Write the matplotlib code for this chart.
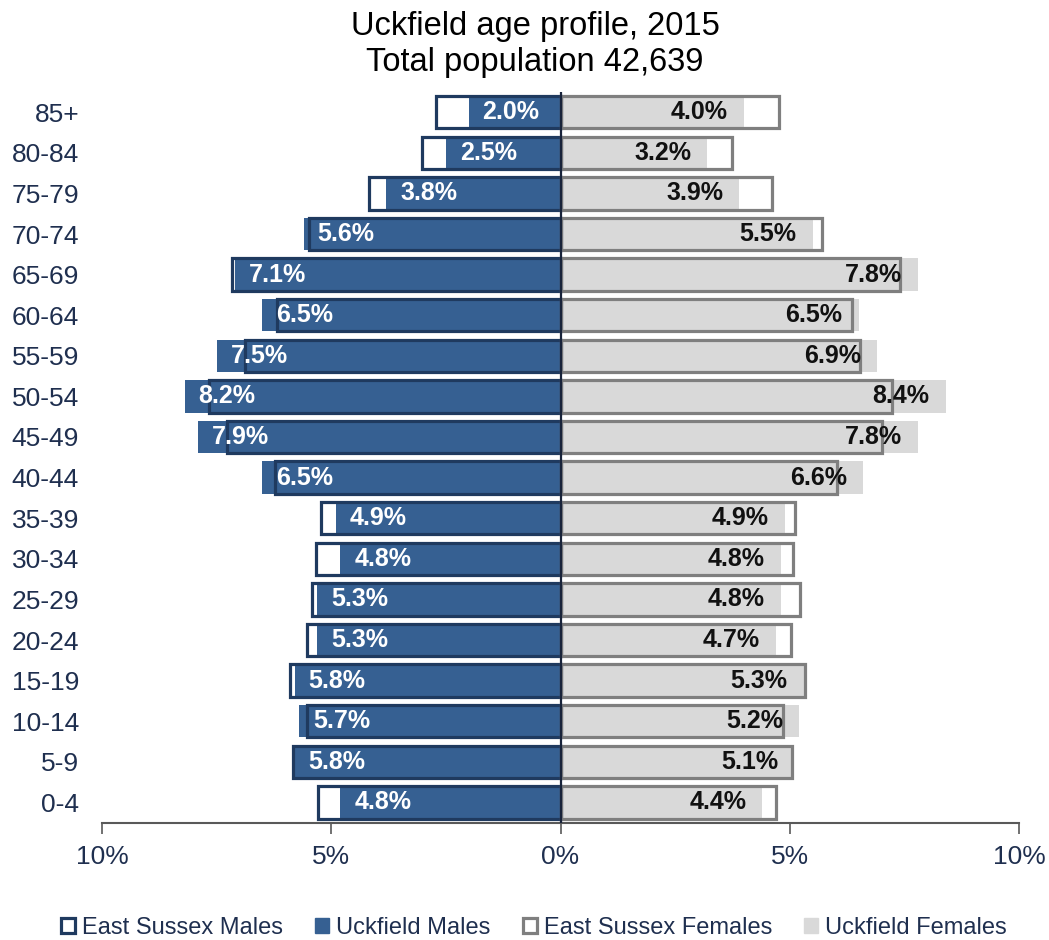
import numpy as np
import matplotlib.pyplot as plt
from matplotlib.patches import Patch

plt.rcParams['font.family'] = ['Liberation Sans', 'DejaVu Sans']

age_groups = ['0-4', '5-9', '10-14', '15-19', '20-24', '25-29', '30-34', '35-39', '40-44',
              '45-49', '50-54', '55-59', '60-64', '65-69', '70-74', '75-79', '80-84', '85+']
uck_males = [4.8, 5.8, 5.7, 5.8, 5.3, 5.3, 4.8, 4.9, 6.5, 7.9, 8.2, 7.5, 6.5, 7.1, 5.6, 3.8, 2.5, 2.0]
es_males = [5.29, 5.83, 5.53, 5.91, 5.52, 5.43, 5.33, 5.22, 6.22, 7.27, 7.67, 6.88, 6.18, 7.17,
            5.49, 4.18, 3.02, 2.71]
uck_females = [4.4, 5.1, 5.2, 5.3, 4.7, 4.8, 4.8, 4.9, 6.6, 7.8, 8.4, 6.9, 6.5, 7.8, 5.5, 3.9, 3.2, 4.0]
es_females = [4.71, 5.05, 4.86, 5.34, 5.03, 5.22, 5.08, 5.11, 6.02, 7.01, 7.24, 6.54, 6.35, 7.41,
              5.70, 4.62, 3.75, 4.76]

blue = '#366092'
navy = '#1F3A5F'
light = '#D9D9D9'
grey_edge = '#7F7F7F'
txt = '#1F2F4F'

fig = plt.figure(figsize=(10.49, 9.40), dpi=100)
ax = fig.add_axes([102 / 1049, 117.3 / 940, 917 / 1049, 730.8 / 940])

y = np.arange(len(age_groups))
h = 0.80
um = -np.array(uck_males)
em = -np.array(es_males)

ax.barh(y, um, height=h, color=blue, zorder=2)
ax.barh(y, uck_females, height=h, color=light, zorder=2)
ax.barh(y, em, height=h, facecolor='none', edgecolor=navy, linewidth=2.3, zorder=3)
ax.barh(y, es_females, height=h, facecolor='none', edgecolor=grey_edge, linewidth=2.3, zorder=3)

# labels sit just inside the end of the Uckfield bars
for yi, v in zip(y, uck_males):
    ax.text(-v + 0.3, yi, '{:.1f}%'.format(v), color='white', fontweight='bold',
            fontsize=18, ha='left', va='center', zorder=5)
for yi, v in zip(y, uck_females):
    ax.text(v - 0.35, yi, '{:.1f}%'.format(v), color='#111111', fontweight='bold',
            fontsize=18, ha='right', va='center', zorder=5)

ax.axvline(0, color='#18233a', linewidth=1.6, zorder=4)

ax.set_xlim(-10, 10)
ax.set_ylim(-0.5, len(age_groups) - 0.5)
ax.set_xticks([-10, -5, 0, 5, 10])
ax.set_xticklabels(['10%', '5%', '0%', '5%', '10%'])
ax.set_yticks(y)
ax.set_yticklabels(age_groups)
ax.tick_params(axis='y', length=0, pad=16.5, labelsize=19, labelcolor=txt)
ax.tick_params(axis='x', length=8, width=1.2, color='#595959', pad=8, labelsize=19, labelcolor=txt)
for s in ['top', 'right', 'left']:
    ax.spines[s].set_visible(False)
ax.spines['bottom'].set_color('#595959')
ax.spines['bottom'].set_linewidth(1.5)

fig.text(535 / 1049, 1 - 26 / 940, 'Uckfield age profile, 2015', ha='center', va='center', fontsize=23.5)
fig.text(535 / 1049, 1 - 62 / 940, 'Total population 42,639', ha='center', va='center', fontsize=23.5)

handles = [Patch(facecolor='white', edgecolor=navy, linewidth=2.3, label='East Sussex Males'),
           Patch(facecolor=blue, edgecolor=blue, label='Uckfield Males'),
           Patch(facecolor='white', edgecolor=grey_edge, linewidth=2.3, label='East Sussex Females'),
           Patch(facecolor=light, edgecolor=light, label='Uckfield Females')]
leg = fig.legend(handles=handles, loc='center', bbox_to_anchor=(534 / 1049, 1 - 928 / 940), ncol=4,
                 frameon=False, fontsize=17, handlelength=0.6, handleheight=0.6, handletextpad=0.3,
                 columnspacing=1.35)
for t in leg.get_texts():
    t.set_color(txt)

fig.savefig('out.png', dpi=100)
